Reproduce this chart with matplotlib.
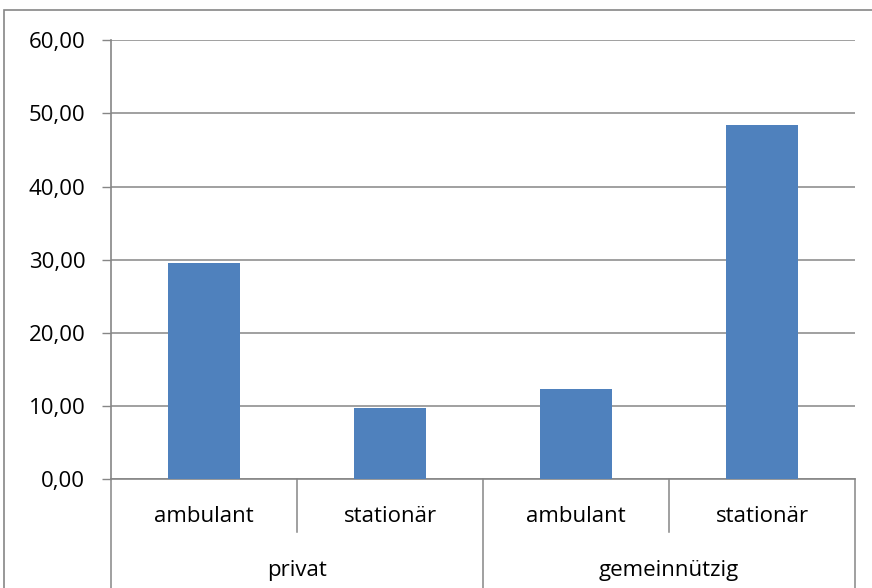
import matplotlib.pyplot as plt
from matplotlib.patches import Rectangle

categories = ['ambulant', 'stationär', 'ambulant', 'stationär']
groups = ['privat', 'gemeinnützig']
values = [29.6, 9.7, 12.3, 48.4]
yticks = [0, 10, 20, 30, 40, 50, 60]

plt.rcParams['font.family'] = ['Open Sans', 'DejaVu Sans']
grey = '#868686'
fs = 16

fig = plt.figure(figsize=(8.72, 5.88), dpi=100)
W, H = 872, 588
ax = fig.add_axes([111 / W, 1 - 479 / H, (855 - 111) / W, (479 - 40.3) / H])

# outer chart border (left and top visible, rest runs off the picture)
fig.patches.append(Rectangle((4 / W, -0.05), 1.2, 1 - 10 / H + 0.05, transform=fig.transFigure,
                             fill=False, edgecolor=grey, linewidth=1.2))

x = list(range(1, len(values) + 1))
ax.bar(x, values, width=0.39, color='#4F81BD', zorder=3)

ax.set_xlim(0.5, 4.5)
ax.set_ylim(0, 60)
ax.set_yticks(yticks)
ax.set_yticklabels([f'{v:.2f}'.replace('.', ',') for v in yticks], fontsize=fs)
ax.tick_params(axis='y', length=6.5, color=grey, width=1, pad=12)
ax.yaxis.grid(True, color=grey, linewidth=1.1, zorder=0)
ax.set_xticks([])

for s in ['top', 'right']:
    ax.spines[s].set_visible(False)
for s in ['left', 'bottom']:
    ax.spines[s].set_color(grey)
    ax.spines[s].set_linewidth(1.2)

# two-level category axis
tr = ax.get_xaxis_transform()
for xs in [1.5, 3.5]:
    ax.plot([xs, xs], [0, -0.121], color=grey, lw=1.1, transform=tr, clip_on=False)
for xs in [0.5, 2.5, 4.5]:
    ax.plot([xs, xs], [0, -0.30], color=grey, lw=1.1, transform=tr, clip_on=False)
for xi, lab in zip(x, categories):
    ax.text(xi, -0.086, lab, transform=tr, ha='center', va='center', fontsize=fs)
for i, g in enumerate(groups):
    ax.text(1.5 + 2 * i, -0.209, g, transform=tr, ha='center', va='center', fontsize=fs)

fig.savefig('out.png', dpi=100)
